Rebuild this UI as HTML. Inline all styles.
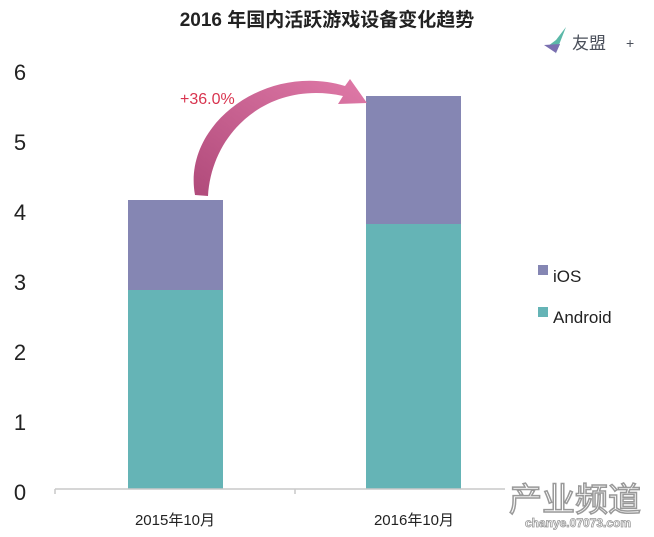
<!DOCTYPE html>
<html><head><meta charset="utf-8"><style>
html,body{margin:0;padding:0;background:#fff;}
svg{display:block;}
</style></head><body>
<svg width="654" height="537" viewBox="0 0 654 537" xmlns="http://www.w3.org/2000/svg">
<defs>
<linearGradient id="ag" x1="0" y1="1" x2="1" y2="0">
<stop offset="0" stop-color="#b04a7a"/><stop offset="1" stop-color="#e07aa8"/>
</linearGradient>
</defs>
<text x="327" y="26" text-anchor="middle" font-family="Liberation Sans, Noto Sans CJK SC, sans-serif" font-size="19" font-weight="bold" fill="#222">2016 年国内活跃游戏设备变化趋势</text>
<!-- logo -->
<path d="M566 27 L556 40 L548 46 L560 44 L555 55 Z" fill="#5bb8a8"/>
<path d="M544 45 L560 44 L556 53 Z" fill="#7a6fb0"/>
<text x="572" y="49" font-family="Liberation Sans, Noto Sans CJK SC, sans-serif" font-size="17" fill="#4a4f5a">友盟</text>
<text x="626" y="48" font-family="Liberation Sans, sans-serif" font-size="14" fill="#4a4f5a">+</text>
<!-- y labels -->
<g font-family="Liberation Sans, sans-serif" font-size="22" fill="#222" text-anchor="middle">
<text x="20" y="80">6</text><text x="20" y="150">5</text><text x="20" y="220">4</text>
<text x="20" y="290">3</text><text x="20" y="360">2</text><text x="20" y="430">1</text><text x="20" y="500">0</text>
</g>
<!-- bars -->
<rect x="128" y="200" width="95" height="90" fill="#8586b3"/>
<rect x="128" y="290" width="95" height="199" fill="#65b4b6"/>
<rect x="366" y="96" width="95" height="128" fill="#8586b3"/>
<rect x="366" y="224" width="95" height="265" fill="#65b4b6"/>
<!-- axis -->
<line x1="55" y1="489" x2="505" y2="489" stroke="#c8c8c8" stroke-width="1.5"/>
<line x1="55" y1="489" x2="55" y2="494" stroke="#c8c8c8" stroke-width="1.5"/>
<line x1="295" y1="489" x2="295" y2="494" stroke="#c8c8c8" stroke-width="1.5"/>
<g font-family="Liberation Sans, Noto Sans CJK SC, sans-serif" font-size="15" fill="#222" text-anchor="middle">
<text x="175" y="525">2015年10月</text><text x="414" y="525">2016年10月</text>
</g>
<!-- arrow -->
<path d="M195 195 C182 125 265 62 345 86 L350 79 L367 103 L338 104 L343 96 C270 80 212 130 208 196 Z" fill="url(#ag)"/>
<text x="180" y="104" font-family="Liberation Sans, sans-serif" font-size="16" fill="#d8344f">+36.0%</text>
<!-- legend -->
<rect x="538" y="265" width="10" height="10" fill="#8586b3"/>
<text x="553" y="282" font-family="Liberation Sans, sans-serif" font-size="17" fill="#222">iOS</text>
<rect x="538" y="307" width="10" height="10" fill="#65b4b6"/>
<text x="553" y="323" font-family="Liberation Sans, sans-serif" font-size="17" fill="#222">Android</text>
<!-- watermark -->
<text x="575" y="511" text-anchor="middle" font-family="Noto Sans CJK SC, sans-serif" font-size="33" fill="#fff" stroke="#999" stroke-width="1.5">产业频道</text>
<text x="578" y="527" text-anchor="middle" font-family="Liberation Sans, sans-serif" font-size="12" font-weight="bold" fill="#fff" stroke="#999" stroke-width="0.8">chanye.07073.com</text>
</svg>
</body></html>
